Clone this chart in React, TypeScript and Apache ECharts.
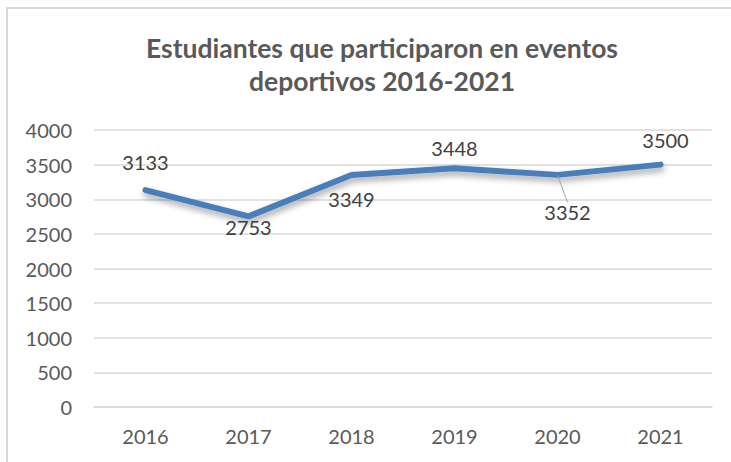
import React, { useEffect, useRef } from "react";
import * as echarts from "echarts";

const categories = ["2016", "2017", "2018", "2019", "2020", "2021"];
const values = [3133, 2753, 3349, 3448, 3352, 3500];
const labelPositions = ["top", "bottom", "bottom", "top", "bottom", "top"];
const labelDistances = [18, 0, 13, 10, 5, 14];
const yTicks = { min: 0, max: 4000, interval: 500 };
const titleText = "Estudiantes que participaron en eventos\ndeportivos 2016-2021";

export default function App() {
  const ref = useRef<HTMLDivElement>(null);
  useEffect(() => {
    if (!ref.current) return;
    const chart = echarts.init(ref.current, null, { renderer: "svg" });
    const font = "Lato, 'Open Sans', sans-serif";
    chart.setOption({
      animation: false,
      backgroundColor: "#ffffff",
      textStyle: { fontFamily: font },
      title: {
        text: titleText,
        left: 377,
        top: 26,
        textAlign: "center",
        textStyle: {
          fontFamily: font,
          fontSize: 26.5,
          fontWeight: "bold",
          color: "#595959",
          lineHeight: 33,
        },
      },
      graphic: [
        {
          type: "rect",
          shape: { x: 7, y: 8, width: 760, height: 600 },
          style: { fill: "none", stroke: "#d9d9d9", lineWidth: 2 },
          silent: true,
          z: 100,
        },
      ],
      grid: { left: 94, right: 19, top: 130, bottom: 55 },
      xAxis: {
        type: "category",
        data: categories,
        boundaryGap: true,
        axisLine: { show: true, lineStyle: { color: "#d9d9d9", width: 1.5 } },
        axisTick: { show: false },
        axisLabel: { color: "#595959", fontSize: 20, margin: 19, fontFamily: font },
      },
      yAxis: {
        type: "value",
        min: yTicks.min,
        max: yTicks.max,
        interval: yTicks.interval,
        axisLine: { show: false },
        axisTick: { show: false },
        splitLine: { lineStyle: { color: "#d9d9d9", width: 1.5 } },
        axisLabel: {
          color: "#595959",
          fontSize: 20,
          margin: 22,
          fontFamily: font,
          formatter: (v: number) => String(v),
        },
      },
      series: [
        {
          type: "line",
          data: values.map((v, i) => ({
            value: v,
            label: {
              position: labelPositions[i],
              distance: labelDistances[i],
            },
            labelLine: { show: i === 4 },
          })),
          symbol: "circle",
          showSymbol: true,
          symbolSize: 1,
          itemStyle: { color: "rgba(0,0,0,0)" },
          lineStyle: {
            color: "#4a7ebb",
            width: 6,
            cap: "round",
            join: "round",
            shadowColor: "rgba(0,0,0,0.35)",
            shadowBlur: 6,
            shadowOffsetY: 4,
            shadowOffsetX: 1,
          },
          label: {
            show: true,
            color: "#404040",
            fontSize: 20,
            fontFamily: font,
          },
          labelLine: {
            show: false,
            lineStyle: { color: "#a6a6a6", width: 1 },
          },
          labelLayout: (params: any) =>
            params.dataIndex === 4
              ? { dx: 10, dy: 22 }
              : params.dataIndex === 5
              ? { dx: 5 }
              : {},
        },
      ],
    });
    return () => chart.dispose();
  }, []);
  return (
    <div
      style={{
        position: "fixed",
        left: 0,
        top: 0,
        width: 731,
        height: 462,
        overflow: "hidden",
        background: "#fff",
      }}
    >
      <div ref={ref} style={{ width: 731, height: 462 }} />
    </div>
  );
}
